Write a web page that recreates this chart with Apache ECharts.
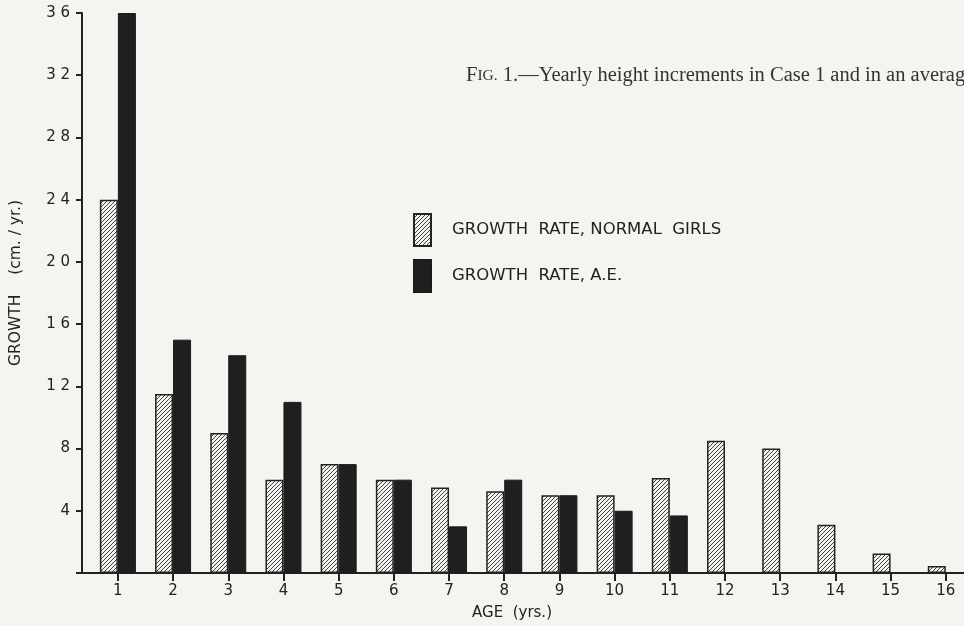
<!DOCTYPE html>
<html>
<head>
<meta charset="utf-8">
<title>Fig. 1 growth rate</title>
<script src="https://cdn.jsdelivr.net/npm/echarts@6/dist/echarts.min.js"></script>
<style>
  html, body { margin: 0; padding: 0; background: #f4f4f1; }
  #chart { width: 964px; height: 626px; }
</style>
</head>
<body>
<div id="chart"></div>
<script>
// data
const ages = [1, 2, 3, 4, 5, 6, 7, 8, 9, 10, 11, 12, 13, 14, 15, 16]
const normalGirls = [24, 11.5, 9, 6, 7, 6, 5.5, 5.25, 5, 5, 6.1, 8.5, 8, 3.1, 1.25, 0.45]
const caseAE = [36, 15, 14, 11, 7, 6, 3, 6, 5, 4, 3.7, null, null, null, null, null]
const yTicks = [0, 4, 8, 12, 16, 20, 24, 28, 32, 36]

// hatch fill for the normal girls bars
const makeHatch = () => {
  const c = document.createElement('canvas')
  c.width = 4
  c.height = 4
  const ctx = c.getContext('2d')
  ctx.fillStyle = '#f2f2ef'
  ctx.fillRect(0, 0, 4, 4)
  ctx.strokeStyle = '#444'
  ctx.lineWidth = 1
  ctx.beginPath()
  ctx.moveTo(0, 4)
  ctx.lineTo(4, 0)
  ctx.moveTo(-1, 1)
  ctx.lineTo(1, -1)
  ctx.moveTo(3, 5)
  ctx.lineTo(5, 3)
  ctx.stroke()
  return c
}

const chart = echarts.init(document.getElementById('chart'))
const font = 'DejaVu Sans'

const option = {
  backgroundColor: '#f4f4f1',
  animation: false,
  title: {
    text: '{a|F}{b|IG.} 1.—Yearly height increments in Case 1 and in an average',
    left: 466,
    top: 65,
    padding: 0,
    textStyle: {
      rich: {
        a: { fontFamily: 'Liberation Serif', fontSize: 20.5, color: '#333' },
        b: { fontFamily: 'Liberation Serif', fontSize: 15.5, color: '#333' }
      },
      fontFamily: 'Liberation Serif',
      fontSize: 20.5,
      fontWeight: 'normal',
      color: '#333'
    }
  },
  legend: {
    orient: 'vertical',
    left: 413,
    top: 213,
    padding: 0,
    itemWidth: 17,
    itemHeight: 32,
    itemGap: 12,
    icon: 'rect',
    textStyle: { fontFamily: font, fontSize: 16.5, color: '#222', padding: [0, 0, 0, 16] },
    data: ['GROWTH  RATE, NORMAL  GIRLS', 'GROWTH  RATE, A.E.']
  },
  grid: { left: 82, right: 0, top: 13, bottom: 53 },
  xAxis: {
    type: 'value',
    min: 0.35,
    max: 16.33,
    splitNumber: 16,
    name: 'AGE  (yrs.)',
    nameLocation: 'middle',
    nameGap: 33,
    nameTextStyle: { fontFamily: font, fontSize: 15, color: '#222', padding: [0, 22, 0, 0] },
    axisLine: { show: true, lineStyle: { color: '#222', width: 2 } },
    axisTick: { show: true, length: 8, lineStyle: { color: '#222', width: 2 } },
    axisLabel: {
      fontFamily: font,
      fontSize: 15,
      color: '#222',
      margin: 11,
      showMinLabel: false,
      showMaxLabel: false,
      formatter: v => (Number.isInteger(v) ? String(v) : '')
    },
    splitLine: { show: false }
  },
  yAxis: {
    type: 'value',
    min: yTicks[0],
    max: yTicks[yTicks.length - 1],
    interval: 4,
    name: 'GROWTH    (cm. / yr.)',
    nameLocation: 'middle',
    nameRotate: 90,
    nameGap: 58,
    nameTextStyle: { fontFamily: font, fontSize: 15.5, color: '#222', padding: [0, 0, 0, 20] },
    axisLine: { show: true, lineStyle: { color: '#222', width: 2 } },
    axisTick: { show: true, length: 6, lineStyle: { color: '#222', width: 2 } },
    axisLabel: {
      fontFamily: font,
      fontSize: 15,
      color: '#222',
      margin: 12,
      formatter: v => (v === 0 ? '' : String(v).split('').join(' '))
    },
    splitLine: { show: false }
  },
  series: [
    {
      name: 'GROWTH  RATE, NORMAL  GIRLS',
      type: 'bar',
      barWidth: 18,
      barGap: '0%',
      data: ages.map((a, i) => [a, normalGirls[i]]),
      itemStyle: {
        color: { image: makeHatch(), repeat: 'repeat' },
        borderColor: '#222',
        borderWidth: 1.5
      }
    },
    {
      name: 'GROWTH  RATE, A.E.',
      type: 'bar',
      barWidth: 18,
      barGap: '0%',
      data: ages.map((a, i) => [a, caseAE[i]]),
      itemStyle: { color: '#1f1f1f', borderColor: '#1a1a1a', borderWidth: 1 }
    }
  ]
}

chart.setOption(option)
</script>
</body>
</html>
